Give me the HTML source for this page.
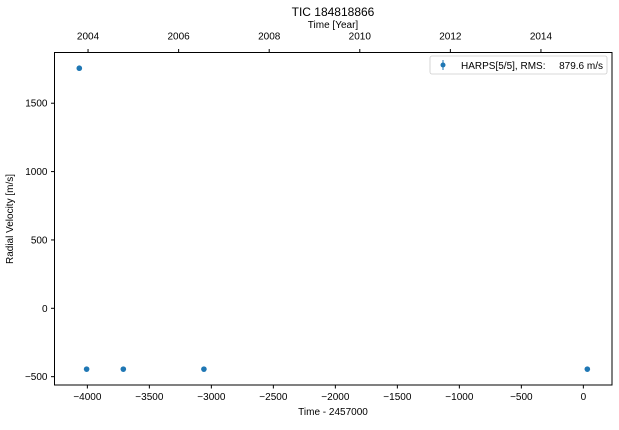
<!DOCTYPE html>
<html><head><meta charset="utf-8"><style>
body{margin:0;background:#fff;font-family:"Liberation Sans",Arial,sans-serif;}
svg text{font-family:"Liberation Sans",Arial,sans-serif;fill:#000;}
</style></head><body>
<svg id="c" width="619" height="425" xmlns="http://www.w3.org/2000/svg"></svg>
<script>
const times=[-4065,-4006,-3710,-3060,32];
const rvs=[1756,-445,-445,-445,-445];
const xTicks=[-4000,-3500,-3000,-2500,-2000,-1500,-1000,-500,0];
const yTicks=[-500,0,500,1000,1500];
const yearTicks=[2004,2006,2008,2010,2012,2014];
const L=54.5,R=612,T=52.5,B=385;
const xmin=-4265,xmax=231,ymin=-561,ymax=1871;
const sx=v=>L+(v-xmin)/(xmax-xmin)*(R-L);
const sy=v=>B-(v-ymin)/(ymax-ymin)*(B-T);
const ns="http://www.w3.org/2000/svg",svg=document.getElementById('c');
function mk(t,a,txt){const e=document.createElementNS(ns,t);for(const k in a)e.setAttribute(k,a[k]);if(txt!==undefined)e.textContent=txt;svg.appendChild(e);return e;}
let e;
e=mk('rect',{x:L,y:T,width:R-L,height:B-T,fill:'none',stroke:'#000','stroke-width':1});

xTicks.forEach(v=>{const x=sx(v);
 e=mk('line',{x1:x,x2:x,y1:B,y2:B+3.5,stroke:'#000'});
 e=mk('text',{x:x,y:B+15,'font-size':10,'text-anchor':'middle'},String(v).replace('-','\u2212'));});
yTicks.forEach(v=>{const y=sy(v);
 e=mk('line',{x1:L-3.5,x2:L,y1:y,y2:y,stroke:'#000'});
 e=mk('text',{x:L-7,y:y+3.5,'font-size':10,'text-anchor':'end'},String(v).replace('-','\u2212'));});
yearTicks.forEach(yr=>{const t=(yr-2000)*365.25+2451544.5-2457000;const x=sx(t);
 e=mk('line',{x1:x,x2:x,y1:T-3.5,y2:T,stroke:'#000'});
 e=mk('text',{x:x,y:T-13,'font-size':10,'text-anchor':'middle'},String(yr));});
e=mk('text',{x:333,y:16,'font-size':12,'text-anchor':'middle'},'TIC 184818866');
e=mk('text',{x:333,y:28,'font-size':10,'text-anchor':'middle'},'Time [Year]');
e=mk('text',{x:333,y:415,'font-size':10,'text-anchor':'middle'},'Time - 2457000');
e=mk('text',{x:13,y:219,'font-size':10,'text-anchor':'middle',transform:'rotate(-90 13 219)'},'Radial Velocity [m/s]');
times.forEach((t,i)=>{
 e=mk('circle',{cx:sx(t),cy:sy(rvs[i]),r:2.8,fill:'#1f77b4'});});
e=mk('rect',{x:430,y:56,width:177,height:18,rx:2,fill:'#fff',stroke:'#ccc','stroke-width':0.8});
e=mk('line',{x1:443,x2:443,y1:60,y2:70,stroke:'#1f77b4','stroke-width':1});
e=mk('circle',{cx:443,cy:65,r:2.5,fill:'#1f77b4'});
e=mk('text',{x:461,y:69,'font-size':10},'HARPS[5/5], RMS:');
e=mk('text',{x:603,y:69,'font-size':10,'text-anchor':'end'},'879.6 m/s');
</script>
</body></html>
